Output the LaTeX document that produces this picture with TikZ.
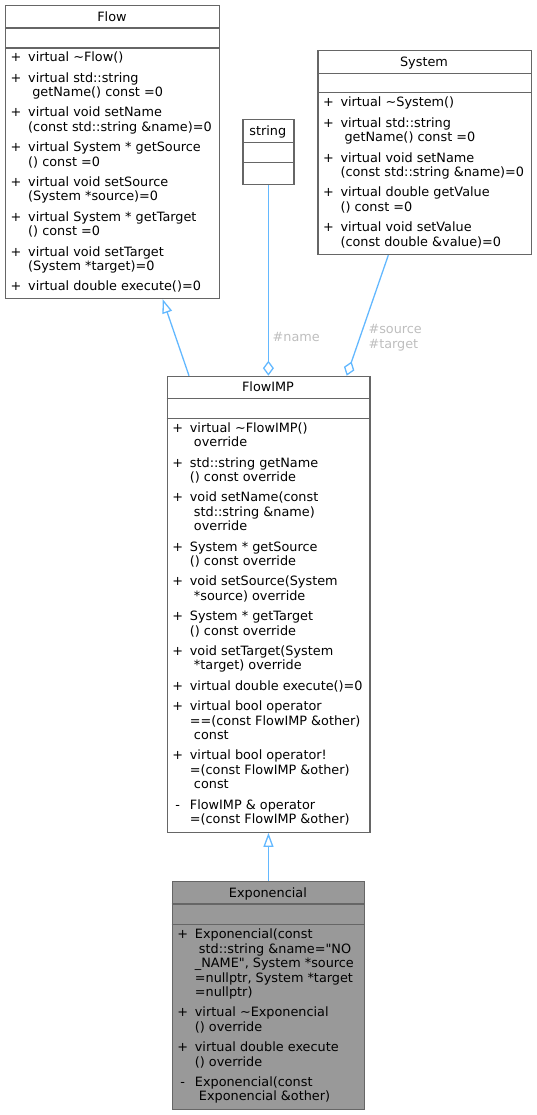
\documentclass[tikz,border=0pt]{standalone}
\usepackage{fontspec}
\usepackage{array}
\newfontfamily\dvs{DejaVu Sans}
\usetikzlibrary{arrows.meta,calc}
\definecolor{edgeblue}{HTML}{63B8FF}
\definecolor{boxgray}{HTML}{666666}
\definecolor{labelgray}{HTML}{BEBEBE}
\definecolor{darkfill}{HTML}{999999}
\newcommand{\tl}{\textasciitilde}
\newcommand{\mn}{\hspace{3pt}-}
\begin{document}
\begin{tikzpicture}[x=1pt,y=-1pt,
  umlbox/.style={draw=boxgray, line width=1.2pt, inner sep=0pt, anchor=north west},
  boxtitle/.style={font=\dvs\fontsize{12.83}{14.4}\selectfont, anchor=base, inner sep=0pt},
  members/.style={font=\dvs\fontsize{12.83}{14.4}\selectfont, anchor=base west, inner sep=0pt},
  sepline/.style={draw=boxgray, line width=1.2pt},
  edgeline/.style={draw=edgeblue, line width=1.3pt},
  inherit/.style={edgeline, -{Triangle[open, length=14pt, width=10pt]}},
  aggr/.style={edgeline, -{Diamond[open, length=15pt, width=11pt]}},
  elabel/.style={font=\dvs\fontsize{12.83}{15}\selectfont, text=labelgray, inner sep=0pt, anchor=base west, align=left}
]
\useasboundingbox (0,0) rectangle (536,1115);

% ---------- boxes ----------
\node[umlbox, minimum width=214pt, minimum height=293pt] (flow) at (5,5) {};
\node[umlbox, minimum width=51pt, minimum height=65.3pt] (string) at (242.3,119) {};
\node[umlbox, minimum width=213.4pt, minimum height=204pt] (system) at (317.3,50) {};
\node[umlbox, minimum width=202.6pt, minimum height=456pt] (flowimp) at (166.7,375.7) {};
\node[umlbox, fill=darkfill, minimum width=192.3pt, minimum height=228pt] (expo) at (171.7,881) {};

% separators
\foreach \b/\a/\c in {flow/23/43, string/23.5/43.5, system/23.3/42.7, flowimp/22.6/42.6, expo/23/43.3}{
  \draw[sepline] ($(\b.north west)+(0,\a)$) -- ($(\b.north east)+(0,\a)$);
  \draw[sepline] ($(\b.north west)+(0,\c)$) -- ($(\b.north east)+(0,\c)$);
}

% ---------- titles ----------
\node[boxtitle] (flowT) at (112,21.2) {Flow};
\node[boxtitle] (stringT) at (267.8,135.4) {string};
\node[boxtitle] (systemT) at (424,66.4) {System};
\node[boxtitle] (flowimpT) at (268,391.9) {FlowIMP};
\node[boxtitle] (expoT) at (267.85,897.4) {Exponencial};

% ---------- members ----------
\node[members] (flowM) at (10.5,61.8) {\begin{tabular}[t]{@{}p{17.5pt}@{}l@{}}
+ & virtual \tl Flow()\\[6pt]
+ & virtual std::string\\
  & \ getName() const =0\\[6pt]
+ & virtual void setName\\
  & (const std::string \&name)=0\\[6pt]
+ & virtual System * getSource\\
  & () const =0\\[6pt]
+ & virtual void setSource\\
  & (System *source)=0\\[6pt]
+ & virtual System * getTarget\\
  & () const =0\\[6pt]
+ & virtual void setTarget\\
  & (System *target)=0\\[6pt]
+ & virtual double execute()=0
\end{tabular}};

\node[members] (systemM) at (322.8,106.9) {\begin{tabular}[t]{@{}p{17.5pt}@{}l@{}}
+ & virtual \tl System()\\[6pt]
+ & virtual std::string\\
  & \ getName() const =0\\[6pt]
+ & virtual void setName\\
  & (const std::string \&name)=0\\[6pt]
+ & virtual double getValue\\
  & () const =0\\[6pt]
+ & virtual void setValue\\
  & (const double \&value)=0
\end{tabular}};

\node[members] (flowimpM) at (172.2,432.2) {\begin{tabular}[t]{@{}p{17.5pt}@{}l@{}}
+ & virtual \tl FlowIMP()\\
  & \ override\\[6pt]
+ & std::string getName\\
  & () const override\\[6pt]
+ & void setName(const\\
  & \ std::string \&name)\\
  & \ override\\[6pt]
+ & System * getSource\\
  & () const override\\[6pt]
+ & void setSource(System\\
  & \ *source) override\\[6pt]
+ & System * getTarget\\
  & () const override\\[6pt]
+ & void setTarget(System\\
  & \ *target) override\\[6pt]
+ & virtual double execute()=0\\[6pt]
+ & virtual bool operator\\
  & ==(const FlowIMP \&other)\\
  & \ const\\[6pt]
+ & virtual bool operator!\\
  & =(const FlowIMP \&other)\\
  & \ const\\[6pt]
\mn & FlowIMP \& operator\\
  & =(const FlowIMP \&other)
\end{tabular}};

\node[members] (expoM) at (177.2,938.8) {\begin{tabular}[t]{@{}p{17.5pt}@{}l@{}}
+ & Exponencial(const\\
  & \ std::string \&name="NO\\
  & \_NAME", System *source\\
  & =nullptr, System *target\\
  & =nullptr)\\[6pt]
+ & virtual \tl Exponencial\\
  & () override\\[6pt]
+ & virtual double execute\\
  & () override\\[6pt]
\mn & Exponencial(const\\
  & \ Exponencial \&other)
\end{tabular}};

% ---------- connectors ----------
\draw[inherit] ($(flowimp.north west)+(22.3,0)$) -- ($(flow.south west)+(157.7,0)$);
\draw[aggr] (string.south) -- (string.south |- flowimp.north);
\draw[aggr] ($(system.south west)+(71,0)$) -- ($(flowimp.north west)+(180,0)$);
\draw[inherit] (expo.north) -- (expo.north |- flowimp.south);

% ---------- edge labels ----------
\node[elabel] (lname) at (272.5,341.4) {\#name};
\node[elabel] (lsrc) at (368.3,348) {\#source\\\#target};
\end{tikzpicture}
\end{document}
